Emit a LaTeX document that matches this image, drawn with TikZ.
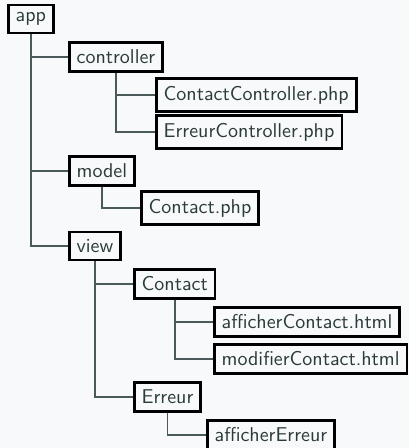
\documentclass[tikz,border=0pt]{standalone}
\renewcommand{\familydefault}{\sfdefault}
\begin{document}
\definecolor{bgc}{HTML}{F8F9FA}
\definecolor{txtc}{HTML}{2B3A3A}
\definecolor{linec}{HTML}{4A5A5A}
\begin{tikzpicture}[x=0.5pt,y=-0.5pt,
  item/.style={draw=black, line width=1.3pt, text=txtc, anchor=west, inner sep=3.7pt, font=\sffamily},
  conn/.style={draw=linec, line width=0.8pt}]
\fill[bgc] (0,0) rectangle (409,448);
\useasboundingbox (0,0) rectangle (409,448);
\node[item] (app) at (7,19) {app};
\node[item] (controller) at (68,57) {controller};
\node[item] (cc) at (155,95) {ContactController.php};
\node[item] (ec) at (155,132) {ErreurController.php};
\node[item] (model) at (68,171) {model};
\node[item] (cphp) at (140,208) {Contact.php};
\node[item] (view) at (68,246) {view};
\node[item] (contact) at (133,284) {Contact};
\node[item] (ac) at (213,322) {afficherContact.html};
\node[item] (mc) at (213,359) {modifierContact.html};
\node[item] (erreur) at (133,397) {Erreur};
\node[item] (ae) at (206,435) {afficherErreur};
\draw[conn] (app.south) |- (controller.west);
\draw[conn] (app.south) |- (model.west);
\draw[conn] (app.south) |- (view.west);
\draw[conn] (controller.south) |- (cc.west);
\draw[conn] (controller.south) |- (ec.west);
\draw[conn] (model.south) |- (cphp.west);
\draw[conn] (view.south) |- (contact.west);
\draw[conn] (view.south) |- (erreur.west);
\draw[conn] (contact.south) |- (ac.west);
\draw[conn] (contact.south) |- (mc.west);
\draw[conn] (erreur.south) |- (ae.west);
\end{tikzpicture}
\end{document}
